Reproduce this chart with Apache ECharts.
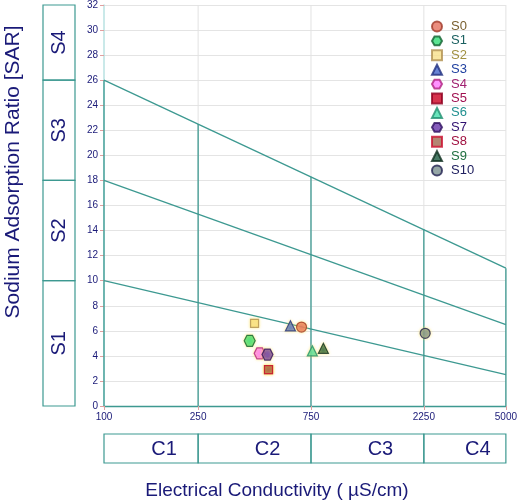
<!DOCTYPE html>
<html><head><meta charset="utf-8">
<script src="https://cdn.jsdelivr.net/npm/echarts@6/dist/echarts.min.js"></script>
<style>html,body{margin:0;padding:0;background:#fff}#c{width:520px;height:503px}</style>
</head><body><div id="c"></div>
<script>
// ---- data ----
const ecTicks = [100, 250, 750, 2250, 5000];
const sarMin = 0, sarMax = 32, sarStep = 2;
const sBounds = [0, 10, 18, 26, 32];
const sLabels = ['S1', 'S2', 'S3', 'S4'];
const cLabels = ['C1', 'C2', 'C3', 'C4'];
const lineHigh = [[100, 26], [5000, 11]];
const lineMid = [[100, 18], [5000, 6.5]];
const lineLow = [[100, 10], [5000, 2.5]];
const vTops = [26, 22.5, 18.3, 14.1, 11];
const sampleNames = ['S0','S1','S2','S3','S4','S5','S6','S7','S8','S9','S10'];
const sampleEC = [684, 413, 433, 614, 455, 496, 760, 491, 496, 846, 2279];
const sampleSAR = [6.3, 5.2, 6.6, 6.4, 4.2, 2.9, 4.4, 4.1, 2.9, 4.6, 5.8];

// ---- styles ----
const HEX = 'path://M0,50 L25,6.7 L75,6.7 L100,50 L75,93.3 L25,93.3 Z';
const sym = ['circle', HEX, 'rect', 'triangle', HEX, 'rect', 'triangle', HEX, 'rect', 'triangle', 'circle'];
const symSize = [10, 11, 8, 10, 11, 8, 10, 11, 8, 10, 10];
const fills = ['#e5705e','#33dd77','#f8e08a','#4466cc','#ff77ff','#cc0020','#44ddaa','#6633aa','#a06850','#1a5a40','#7a9090'];
const borders = ['#a03828','#106030','#b09050','#203080','#b02080','#900020','#209070','#301060','#cc1030','#103020','#202050'];
const txtCol = ['#7a6030','#1a6060','#a09040','#2040a0','#a02070','#a01050','#209090','#301070','#a01040','#207040','#202060'];
const TEAL = '#3d9991', NAVY = '#1a1a78', FONT = 'Liberation Sans, Arial, sans-serif';
const L = v => Math.log10(v);

const series = [];
// grey vertical grid lines (full height)
ecTicks.slice(1).forEach(t => series.push({type:'line', data:[[L(t), sarMin], [L(t), sarMax]], symbol:'none', silent:true,
  lineStyle:{color:'#e2e2e2', width:1}, z:1}));
function segLine(pts) {
  series.push({type:'line', data: pts.map(p => [L(p[0]), p[1]]), symbol:'none', silent:true,
    lineStyle:{color:TEAL, width:1.3}, z:3});
}
segLine(lineHigh); segLine(lineMid); segLine(lineLow);
ecTicks.forEach((t, i) => segLine([[t, 0], [t, vTops[i]]]));

sampleNames.forEach((n, i) => {
  series.push({type:'scatter', name:n, data:[[L(sampleEC[i]), sampleSAR[i]]], symbol:sym[i], symbolSize:symSize[i],
    itemStyle:{color:fills[i], borderColor:borders[i], borderWidth:1.2, shadowColor:'rgba(255,225,60,0.7)', shadowBlur:3},
    z:10});
});

const option = {
  animation:false,
  textStyle:{fontFamily:FONT},
  grid:{left:104, right:13, top:5, bottom:97},
  xAxis:{type:'value', min:L(100), max:L(5000),
    axisLine:{lineStyle:{color:TEAL, width:1.3}},
    axisTick:{show:true, customValues: ecTicks.map(L), length:4, lineStyle:{color:'#e0a0a0'}},
    axisLabel:{customValues: ecTicks.map(L), formatter: v => String(Math.round(Math.pow(10, v))), color:NAVY, fontSize:10, margin:6},
    splitLine:{show:false}},
  yAxis:{type:'value', min:sarMin, max:sarMax, interval:sarStep,
    axisLine:{show:true, lineStyle:{color:'#b8e2e2', width:1.5}},
    axisTick:{show:true, length:4, lineStyle:{color:'#e0a0a0'}},
    axisLabel:{color:NAVY, fontSize:10, margin:6},
    splitLine:{show:true, lineStyle:{color:'#e4e4e4'}}},
  legend:{orient:'vertical', left:431, top:20, padding:0, itemWidth:10, itemHeight:10, itemGap:1.4,
    data: sampleNames.map((n, i) => ({name:n, textStyle:{color:txtCol[i]}})),
    textStyle:{fontSize:13, fontFamily:FONT, padding:[0,0,0,4]}},
  series
};

const chart = echarts.init(document.getElementById('c'));
chart.setOption(option);
const px = (x, y) => chart.convertToPixel({gridIndex:0}, [L(x), y]);

const g = [];
for (let i = 0; i < 4; i++) {
  const yt = px(100, sBounds[i+1])[1], yb = px(100, sBounds[i])[1];
  g.push({type:'rect', shape:{x:43, y:yt, width:32, height:yb-yt}, style:{fill:'none', stroke:TEAL, lineWidth:1.2}});
  g.push({type:'text', x:59, y:(yt+yb)/2, rotation:Math.PI/2,
    style:{text:sLabels[i], fill:NAVY, font:'20px ' + FONT, align:'center', verticalAlign:'middle'}});
}
for (let i = 0; i < 4; i++) {
  const xl = px(ecTicks[i], 0)[0], xr = px(ecTicks[i+1], 0)[0];
  g.push({type:'rect', shape:{x:xl, y:434, width:xr-xl, height:29}, style:{fill:'none', stroke:TEAL, lineWidth:1.2}});
  g.push({type:'text', x:(xl+xr)/2 + 13, y:449,
    style:{text:cLabels[i], fill:NAVY, font:'20px ' + FONT, align:'center', verticalAlign:'middle'}});
}
g.push({type:'text', x:277, y:491, style:{text:'Electrical Conductivity ( µS/cm)', fill:NAVY, font:'19px ' + FONT, align:'center', verticalAlign:'middle'}});
g.push({type:'text', x:13, y:172, rotation:Math.PI/2, style:{text:'Sodium Adsorption Ratio [SAR]', fill:NAVY, font:'21px ' + FONT, align:'center', verticalAlign:'middle'}});
chart.setOption({graphic: g});
</script></body></html>
